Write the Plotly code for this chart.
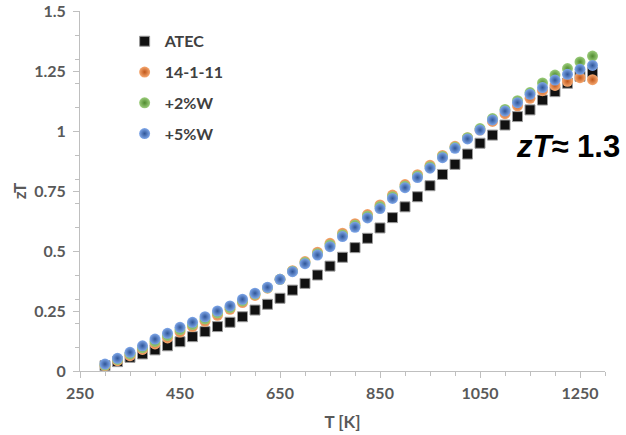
import plotly.graph_objects as go

T = [300, 325, 350, 375, 400, 425, 450, 475, 500, 525, 550, 575, 600, 625, 650, 675, 700, 725, 750, 775,
     800, 825, 850, 875, 900, 925, 950, 975, 1000, 1025, 1050, 1075, 1100, 1125, 1150, 1175, 1200, 1225, 1250, 1275]

atec = [0.022, 0.039, 0.057, 0.071, 0.088, 0.105, 0.122, 0.143, 0.164, 0.185, 0.203, 0.226, 0.254, 0.278, 0.303,
        0.337, 0.365, 0.400, 0.437, 0.474, 0.514, 0.553, 0.596, 0.639, 0.684, 0.726, 0.772, 0.819, 0.861, 0.904,
        0.949, 0.983, 1.025, 1.060, 1.088, 1.129, 1.164, 1.199, 1.228, 1.245]

s14111 = [0.022, 0.043, 0.064, 0.090, 0.113, 0.138, 0.162, 0.185, 0.207, 0.232, 0.257, 0.285, 0.315, 0.345, 0.382,
          0.418, 0.456, 0.495, 0.532, 0.574, 0.614, 0.652, 0.692, 0.733, 0.777, 0.818, 0.857, 0.898, 0.936, 0.972,
          1.004, 1.040, 1.072, 1.105, 1.136, 1.168, 1.190, 1.207, 1.222, 1.214]

w2 = [0.025, 0.048, 0.071, 0.097, 0.123, 0.148, 0.172, 0.194, 0.217, 0.242, 0.264, 0.292, 0.320, 0.347, 0.382,
      0.416, 0.452, 0.489, 0.525, 0.567, 0.607, 0.645, 0.685, 0.726, 0.770, 0.812, 0.851, 0.894, 0.932, 0.972,
      1.010, 1.052, 1.090, 1.126, 1.160, 1.200, 1.233, 1.260, 1.288, 1.312]

w5 = [0.029, 0.053, 0.078, 0.105, 0.133, 0.157, 0.182, 0.203, 0.226, 0.250, 0.271, 0.299, 0.324, 0.349, 0.382,
      0.414, 0.447, 0.483, 0.518, 0.560, 0.599, 0.638, 0.677, 0.719, 0.764, 0.806, 0.845, 0.889, 0.928, 0.967,
      1.004, 1.046, 1.083, 1.118, 1.153, 1.181, 1.212, 1.236, 1.257, 1.273]

names = ["ATEC", "14-1-11", "+2%W", "+5%W"]

x_ticks = [250, 450, 650, 850, 1050, 1250]
y_ticks = [0, 0.25, 0.5, 0.75, 1, 1.25, 1.5]
y_tick_labels = ["0", "0.25", "0.5", "0.75", "1", "1.25", "1.5"]

GRAY = "#595959"
AXIS = "#bfbfbf"
FONT = "Lato"

fig = go.Figure()

fig.add_trace(go.Scatter(
    x=T, y=atec, mode="markers", name=names[0], legendgroup="a",
    marker=dict(symbol="square", size=10, color="#111111", line=dict(color="#9a9a9a", width=1)),
    cliponaxis=False))

circle_styles = [
    ("#f6a870", "#c0571a"),
    ("#9ccd7c", "#4f8a2e"),
    ("#80a8ea", "#2f5597"),
]
for name, ys, (c_in, c_out), g in zip(names[1:], [s14111, w2, w5], circle_styles, ["b", "c", "d"]):
    fig.add_trace(go.Scatter(
        x=T, y=ys, mode="markers", name=name, legendgroup=g,
        marker=dict(symbol="circle", size=11, color=c_in,
                    gradient=dict(type="radial", color=c_out),
                    line=dict(width=0)),
        cliponaxis=False))

fig.add_annotation(
    x=1118, y=0.935, xref="x", yref="y", xanchor="left", yanchor="middle",
    text="<b><i>zT</i>≈ 1.3</b>", showarrow=False,
    font=dict(family="Liberation Sans", size=31, color="#000000"))

fig.update_layout(
    width=626, height=435,
    margin=dict(l=80, r=21, t=11, b=64),
    paper_bgcolor="white", plot_bgcolor="white",
    font=dict(family=FONT, color=GRAY, size=16),
    showlegend=True,
    legend=dict(
        x=0.085, y=0.963, xanchor="left", yanchor="top",
        bgcolor="rgba(0,0,0,0)", tracegroupgap=7, itemwidth=30,
        font=dict(family=FONT, size=16, color="#404040", weight="bold"),
    ),
    xaxis=dict(
        range=[250, 1300], tickmode="array", tickvals=x_ticks, automargin=False,
        showline=True, linecolor=AXIS, linewidth=1, showgrid=False, zeroline=False,
        ticks="outside", ticklen=6, tickcolor=AXIS, ticklabelstandoff=2,
        minor=dict(tickmode="linear", tick0=250, dtick=50, ticks="outside", ticklen=4, tickcolor=AXIS),
        tickfont=dict(family=FONT, size=16, color=GRAY, weight="bold"),
        title=dict(text="T [K]", standoff=14, font=dict(family=FONT, size=17, color=GRAY, weight="bold")),
    ),
    yaxis=dict(
        range=[0, 1.5], tickmode="array", tickvals=y_ticks, ticktext=y_tick_labels, automargin=False,
        showline=True, linecolor=AXIS, linewidth=1, showgrid=False, zeroline=False,
        ticks="outside", ticklen=6, tickcolor=AXIS, ticklabelstandoff=4, ticklabeloverflow="allow",
        minor=dict(tickmode="linear", tick0=0, dtick=0.1, ticks="outside", ticklen=4, tickcolor=AXIS),
        tickfont=dict(family=FONT, size=16, color=GRAY, weight="bold"),
        title=dict(text="zT", standoff=3, font=dict(family=FONT, size=17, color=GRAY, weight="bold")),
    ),
)

# remove the default 8px page margin so the 626x435 figure fills the window exactly
fig.write_html("out.html", config={"displayModeBar": False},
               post_script="document.body.style.margin='0';")
